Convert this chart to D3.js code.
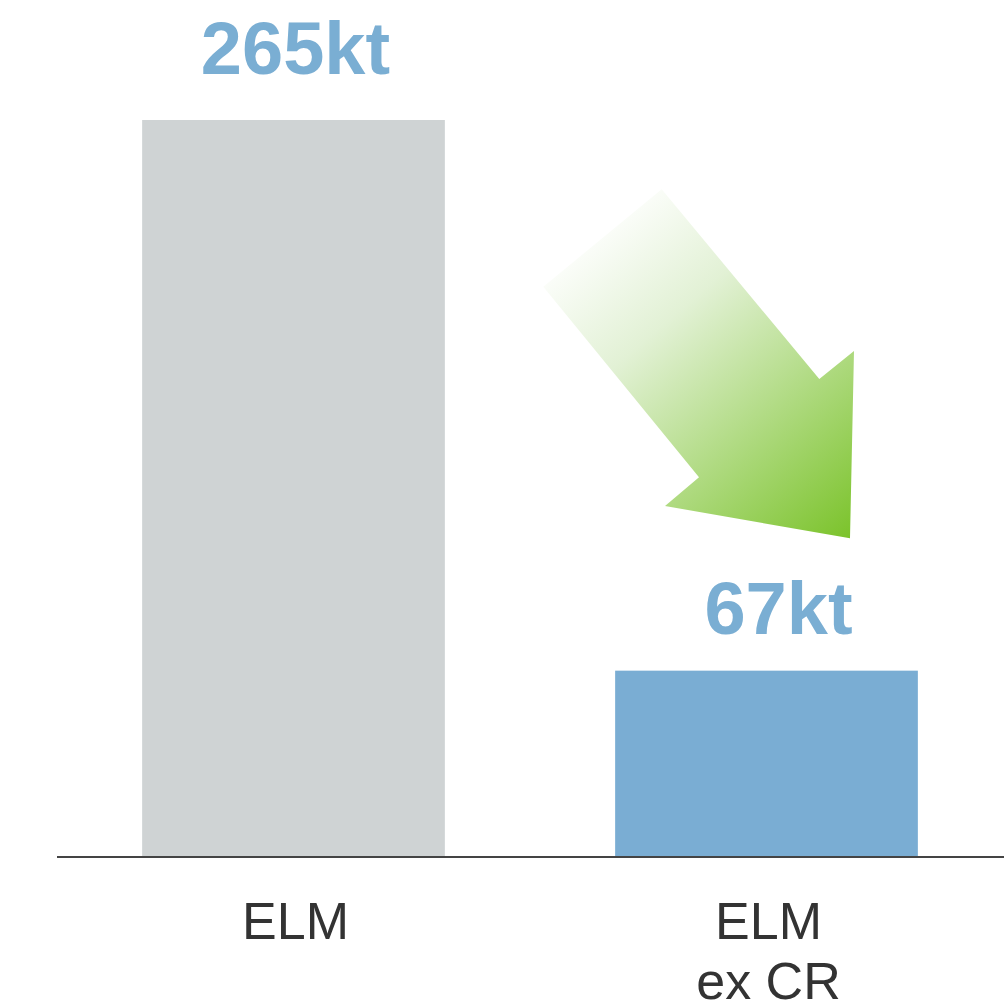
<!DOCTYPE html>
<html>
<head>
<meta charset="utf-8">
<script src="https://cdn.jsdelivr.net/npm/d3@7"></script>
<style>
  html, body { margin: 0; padding: 0; background: #ffffff; }
  svg { display: block; }
</style>
</head>
<body>
<script>
// Volumes per category
const categories = ["ELM", "ELM ex CR"];
const values = [265, 67];
const valueLabels = ["265kt", "67kt"];
const categoryLines = [["ELM"], ["ELM", "ex CR"]];
const barColors = ["#cfd3d4", "#7aadd3"];

const W = 1004, H = 1008;
const baseY = 857;

const svg = d3.select("body").append("svg")
  .attr("width", W).attr("height", H);

const x = d3.scaleBand()
  .domain(categories)
  .range([57, 1003])
  .paddingInner(0.36)
  .paddingOuter(0.18);

const y = d3.scaleLinear()
  .domain([0, 265])
  .range([baseY, 120]);

// Decorative downward arrow with a white-to-green fade
const defs = svg.append("defs");
const grad = defs.append("linearGradient")
  .attr("id", "arrowFade")
  .attr("gradientUnits", "userSpaceOnUse")
  .attr("x1", 585).attr("y1", 225)
  .attr("x2", 860).attr("y2", 545);
grad.append("stop").attr("offset", 0).attr("stop-color", "#ffffff");
grad.append("stop").attr("offset", 0.3).attr("stop-color", "#e2f1d5");
grad.append("stop").attr("offset", 1).attr("stop-color", "#77c124");

const arrowPts = [
  [661.7, 189.3], [819.3, 379], [854, 351], [850, 538.3],
  [665, 506], [699, 477.3], [543.3, 286.7]
];
svg.append("path")
  .attr("d", d3.line()(arrowPts) + "Z")
  .attr("fill", "url(#arrowFade)");

// Bars
svg.selectAll("rect.bar")
  .data(values)
  .join("rect")
  .attr("class", "bar")
  .attr("x", (d, i) => x(categories[i]))
  .attr("y", d => y(d))
  .attr("width", x.bandwidth())
  .attr("height", d => baseY - y(d))
  .attr("fill", (d, i) => barColors[i]);

// Baseline
svg.append("line")
  .attr("x1", 57).attr("x2", 1004)
  .attr("y1", baseY).attr("y2", baseY)
  .attr("stroke", "#444444")
  .attr("stroke-width", 2);

// Value labels
const labelDx = [2, 12];
const labelDy = [46, 37];
svg.selectAll("text.value")
  .data(values)
  .join("text")
  .attr("class", "value")
  .attr("x", (d, i) => x(categories[i]) + x.bandwidth() / 2 + labelDx[i])
  .attr("y", (d, i) => y(d) - labelDy[i])
  .attr("text-anchor", "middle")
  .attr("font-family", "Liberation Sans, Arial, sans-serif")
  .attr("font-weight", "bold")
  .attr("font-size", 74)
  .attr("fill", "#7aaed3")
  .text((d, i) => valueLabels[i]);

// Category labels
const catDx = [2, 2];
categoryLines.forEach((lines, i) => {
  const t = svg.append("text")
    .attr("text-anchor", "middle")
    .attr("font-family", "Liberation Sans, Arial, sans-serif")
    .attr("font-size", 52)
    .attr("fill", "#333333");
  lines.forEach((ln, j) => {
    t.append("tspan")
      .attr("x", x(categories[i]) + x.bandwidth() / 2 + catDx[i])
      .attr("y", 939 + j * 60)
      .text(ln);
  });
});
</script>
</body>
</html>
